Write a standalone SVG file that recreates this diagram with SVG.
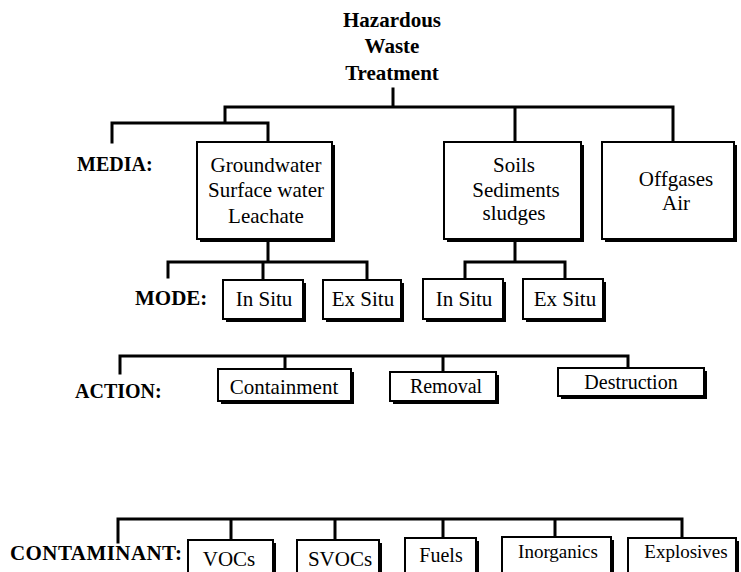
<svg xmlns="http://www.w3.org/2000/svg" width="741" height="572" viewBox="0 0 741 572">
<defs>
<style>
text{font-family:"Liberation Serif","Times New Roman",serif;font-size:21px;fill:#000;text-anchor:middle}
.b{font-weight:bold}
.l{text-anchor:start}
.s20{font-size:20px}
.s19{font-size:19px}
.sh{fill:#000}
.bx{fill:#fff;stroke:#000;stroke-width:2}
#connectors path{fill:none;stroke:#000;stroke-width:3;stroke-linecap:square}
</style>
</defs>
<rect width="741" height="572" fill="#fff"/>
<g id="connectors">
<path d="M393 89V107M225 107H673M225 107V123M112 123H268M112 123V142M268 123V142M515 107V142M673 107V142"/>
<path d="M268 243V262M168 262H367M168 262V277M263 262V280M367 262V280"/>
<path d="M515 243V262M465 262H565M465 262V278M565 262V278"/>
<path d="M120 356H628M120 356V373M285 356V369M443 356V372M628 356V368"/>
<path d="M118 519H682M118 519V542M231 519V540M335 519V540M443 519V538M555 519V537M682 519V538"/>
</g>
<g id="title">
<text class="b" x="392" y="27">Hazardous</text>
<text class="b" x="392" y="53">Waste</text>
<text class="b" x="392" y="80">Treatment</text>
</g>
<g id="labels">
<text class="b l s20" x="77" y="171">MEDIA:</text>
<text class="b l" x="135" y="305">MODE:</text>
<text class="b l s20" x="75" y="398">ACTION:</text>
<text class="b l" x="10" y="560" textLength="172">CONTAMINANT:</text>
</g>
<g id="groundwater">
<rect class="sh" x="200" y="145" width="135" height="97"/>
<rect class="bx" x="197" y="142" width="135" height="97"/>
<text x="266" y="172">Groundwater</text>
<text x="266" y="197">Surface water</text>
<text x="266" y="223">Leachate</text>
</g>
<g id="soils">
<rect class="sh" x="447" y="145" width="137" height="97"/>
<rect class="bx" x="444" y="142" width="137" height="97"/>
<text x="514" y="172">Soils</text>
<text x="516" y="197">Sediments</text>
<text x="514" y="220">sludges</text>
</g>
<g id="offgases">
<rect class="sh" x="605" y="145" width="132" height="97"/>
<rect class="bx" x="602" y="142" width="132" height="97"/>
<text x="676" y="186">Offgases</text>
<text x="676" y="210">Air</text>
</g>
<g id="insitu1">
<rect class="sh" x="226" y="283" width="80" height="39"/>
<rect class="bx" x="223" y="280" width="80" height="39"/>
<text x="264" y="306">In Situ</text>
</g>
<g id="exsitu1">
<rect class="sh" x="326" y="283" width="78" height="39"/>
<rect class="bx" x="323" y="280" width="78" height="39"/>
<text x="363" y="306">Ex Situ</text>
</g>
<g id="insitu2">
<rect class="sh" x="426" y="282" width="80" height="40"/>
<rect class="bx" x="423" y="279" width="80" height="40"/>
<text x="464" y="306">In Situ</text>
</g>
<g id="exsitu2">
<rect class="sh" x="526" y="282" width="80" height="40"/>
<rect class="bx" x="523" y="279" width="80" height="40"/>
<text x="565" y="306">Ex Situ</text>
</g>
<g id="containment">
<rect class="sh" x="221" y="372" width="133" height="32"/>
<rect class="bx" x="218" y="369" width="133" height="32"/>
<text x="284" y="394">Containment</text>
</g>
<g id="removal">
<rect class="sh" x="393" y="375" width="106" height="29"/>
<rect class="bx" x="390" y="372" width="106" height="29"/>
<text class="s20" x="446" y="393">Removal</text>
</g>
<g id="destruction">
<rect class="sh" x="561" y="371" width="146" height="28"/>
<rect class="bx" x="558" y="368" width="146" height="28"/>
<text class="s20" x="631" y="389">Destruction</text>
</g>
<g id="vocs">
<rect class="sh" x="191" y="543" width="85" height="50"/>
<rect class="bx" x="188" y="540" width="85" height="50"/>
<text x="229" y="566">VOCs</text>
</g>
<g id="svocs">
<rect class="sh" x="300" y="543" width="82" height="50"/>
<rect class="bx" x="297" y="540" width="82" height="50"/>
<text x="340" y="566">SVOCs</text>
</g>
<g id="fuels">
<rect class="sh" x="408" y="541" width="71" height="50"/>
<rect class="bx" x="405" y="538" width="71" height="50"/>
<text class="s20" x="441" y="562">Fuels</text>
</g>
<g id="inorganics">
<rect class="sh" x="505" y="540" width="109" height="50"/>
<rect class="bx" x="502" y="537" width="109" height="50"/>
<text class="s19" x="558" y="558">Inorganics</text>
</g>
<g id="explosives">
<rect class="sh" x="631" y="541" width="108" height="50"/>
<rect class="bx" x="628" y="538" width="108" height="50"/>
<text class="s19" x="686" y="558">Explosives</text>
</g>
</svg>
